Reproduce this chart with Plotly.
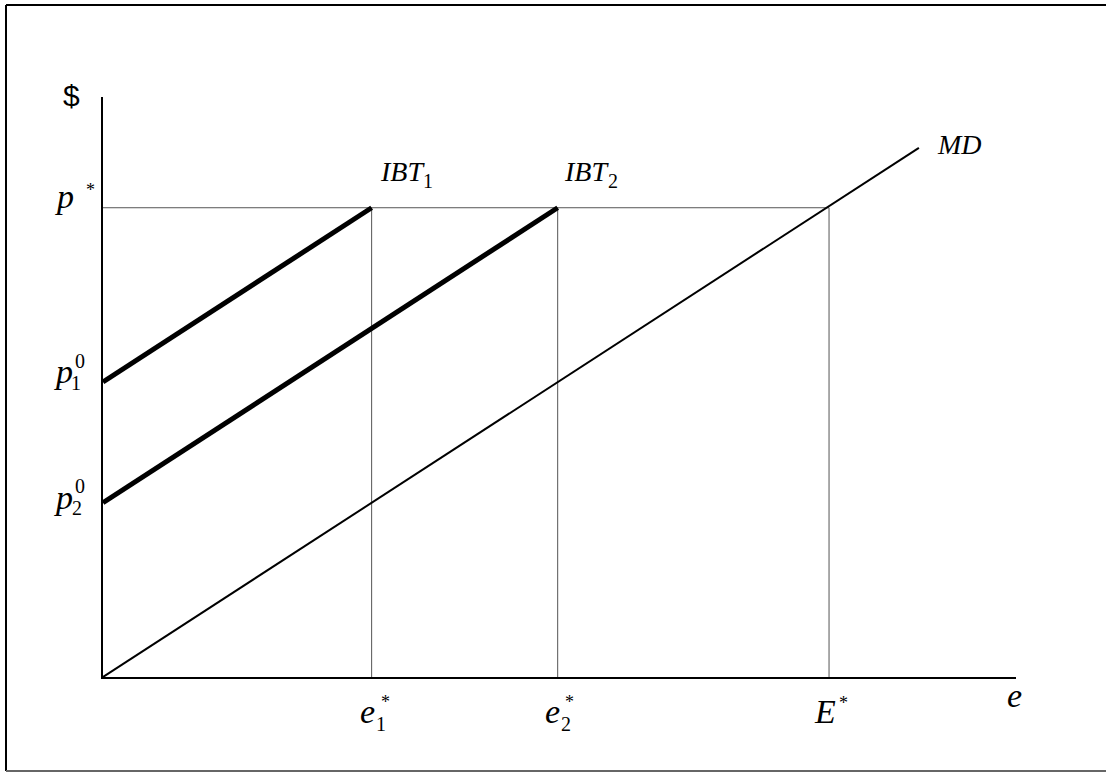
import plotly.graph_objects as go

# --- model values (data units) ---
p_star = 5.17                 # market price p*
e_star = [2.96, 5.01]         # e1*, e2*
E_star = 8.0                  # E*
p_zero = [3.25, 1.92]         # p1^0, p2^0 intercepts of IBT1, IBT2
md_end = (8.99, 5.83)         # upper end of the MD line
x_max, y_max = 10.06, 6.39    # axis extents

W, H = 1106, 772
L, R, T, B = 103, 90, 97, 95
PW, PH = W - L - R, H - T - B

fig = go.Figure()

# reference lines at p* and the three equilibrium quantities
ref = dict(color="#555555", width=1)
fig.add_trace(go.Scatter(x=[0, E_star], y=[p_star, p_star], mode="lines", line=ref))
for xv in e_star + [E_star]:
    fig.add_trace(go.Scatter(x=[xv, xv], y=[0, p_star], mode="lines", line=ref))

# MD line through the origin
fig.add_trace(go.Scatter(x=[0, md_end[0]], y=[0, md_end[1]], mode="lines",
                         line=dict(color="black", width=2)))

# IBT1 and IBT2 (thick)
for xe, p0 in zip(e_star, p_zero):
    fig.add_trace(go.Scatter(x=[0, xe], y=[p0, p_star], mode="lines",
                             line=dict(color="black", width=5)))

fig.update_traces(hoverinfo="skip", showlegend=False, cliponaxis=False)


def px2paper(px, py):
    return (px - L) / PW, (H - B - py) / PH


annotations = []


def label(text, px, baseline, size, family="Liberation Serif"):
    # place text so that its baseline sits at the given pixel row
    cy = baseline - 0.34 * size
    x, y = px2paper(px, cy)
    annotations.append(dict(text=text, x=x, y=y, xref="paper", yref="paper",
                            xanchor="center", yanchor="middle", showarrow=False,
                            font=dict(family=family, size=size, color="black")))


BIG, MID, SUB, SUP, AST = 34, 28, 20, 20, 18

label("$", 71, 106, 30, "Liberation Sans")

# p*
label("<i>p</i>", 64, 208, BIG)
label("*", 90, 196, AST)
# p1^0, p2^0
label("<i>p</i>", 63, 383, BIG)
label("1", 76, 390, SUB)
label("0", 80, 368, SUP)
label("<i>p</i>", 63, 509, BIG)
label("2", 77, 515, SUB)
label("0", 80, 493, SUP)

# curve names
label("<i>IBT</i>", 402, 181, MID)
label("1", 428, 188, SUB)
label("<i>IBT</i>", 586, 181, MID)
label("2", 613, 188, SUB)
label("<i>MD</i>", 959, 154, MID)

# x-axis marks
label("<i>e</i>", 367, 723, BIG)
label("1", 381, 731, SUB)
label("*", 385, 708, AST)
label("<i>e</i>", 552, 723, BIG)
label("2", 566, 731, SUB)
label("*", 569, 708, AST)
label("<i>E</i>", 825, 723, BIG)
label("*", 843, 709, AST)
label("<i>e</i>", 1014, 707, BIG)

# outer frame: top and left black, bottom grey; right side runs off the page
def seg(x0, y0, x1, y1, color, width):
    a, b = px2paper(x0, y0)
    c, d = px2paper(x1, y1)
    return dict(type="line", xref="paper", yref="paper", x0=a, y0=b, x1=c, y1=d,
                line=dict(color=color, width=width), layer="below")


shapes = [
    seg(6, 5, 1140, 5, "black", 2),
    seg(6, 5, 6, 771, "black", 2),
    seg(6, 771, 1140, 771, "#666666", 2),
]

axis_common = dict(showgrid=False, zeroline=False, showticklabels=False, ticks="",
                   showline=True, linecolor="black", linewidth=2, mirror=False,
                   fixedrange=True)
fig.update_layout(
    width=W, height=H,
    margin=dict(l=L, r=R, t=T, b=B, pad=0),
    paper_bgcolor="white", plot_bgcolor="white",
    xaxis=dict(range=[0, x_max], **axis_common),
    yaxis=dict(range=[0, y_max], **axis_common),
    annotations=annotations, shapes=shapes,
)

fig.write_html("out.html")
